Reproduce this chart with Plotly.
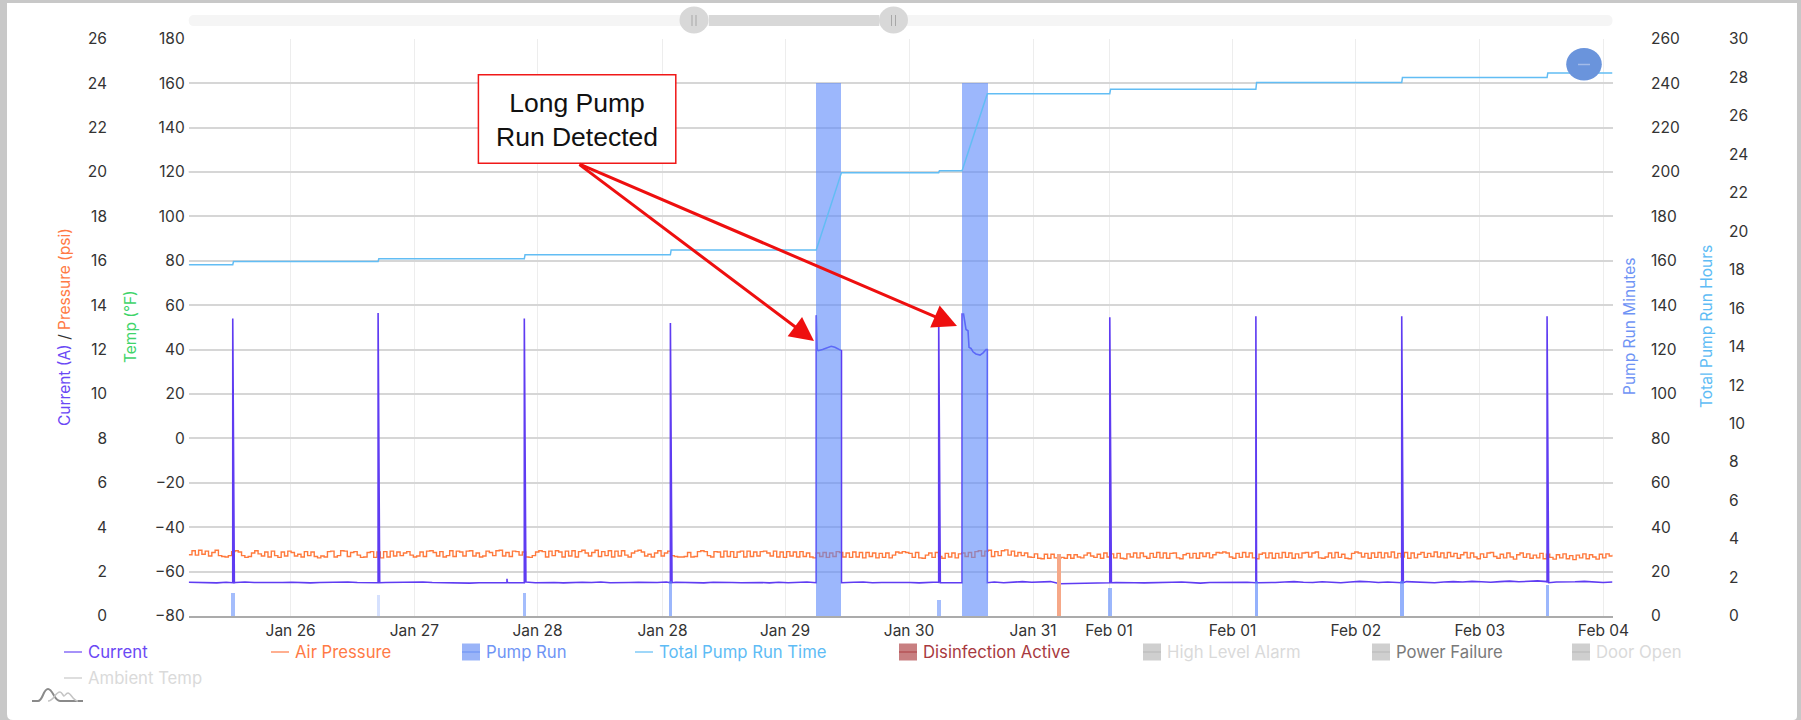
import numpy as np
import plotly.graph_objects as go

# ---------- data (x is in "axis days": 0 = the first "Jan 26" gridline) ----------
tick_days = [0, 1, 1.996, 3.006, 3.997, 4.999, 6.002, 6.616, 7.614, 8.611, 9.613, 10.613]
tick_labels = ["Jan 26", "Jan 27", "Jan 28", "Jan 28", "Jan 29", "Jan 30", "Jan 31",
               "Feb 01", "Feb 01", "Feb 02", "Feb 03", "Feb 04"]
x_range = [-0.824, 10.686]

spike_days = [-0.468, 0.707, 1.749, 1.889, 3.070, 5.239, 6.622, 7.803, 8.982, 10.157]
spike_amps = [13.4, 13.65, 1.68, 13.4, 13.2, 13.4, 13.45, 13.5, 13.5, 13.5]

run1_days = [4.249, 4.249, 4.256, 4.265, 4.30, 4.34, 4.37, 4.40, 4.43, 4.453, 4.453]
run1_amps = [1.5, 13.55, 12.0, 11.95, 12.0, 12.1, 12.15, 12.1, 12.0, 11.95, 1.5]
run2_days = [5.428, 5.428, 5.44, 5.46, 5.476, 5.484, 5.50, 5.516, 5.54, 5.573, 5.598, 5.622, 5.632, 5.632]
run2_amps = [1.5, 13.6, 13.6, 12.9, 12.85, 12.1, 12.05, 11.9, 11.8, 11.75, 11.85, 12.0, 12.0, 1.5]

current_base = [
    1.52, 1.50, 1.51, 1.49, 1.52, 1.51, 1.53, 1.51, 1.50, 1.52, 1.51, 1.52, 1.50, 1.49, 1.51, 1.52,
    1.51, 1.53, 1.51, 1.50, 1.49, 1.51, 1.52, 1.50, 1.52, 1.53, 1.51, 1.50, 1.51, 1.49, 1.48, 1.50,
    1.51, 1.49, 1.52, 1.51, 1.53, 1.50, 1.52, 1.51, 1.49, 1.51, 1.52, 1.51, 1.53, 1.50, 1.49, 1.51,
    1.52, 1.50, 1.51, 1.53, 1.52, 1.50, 1.51, 1.49, 1.52, 1.53, 1.51, 1.50, 1.52, 1.51, 1.49, 1.52,
    1.50, 1.51, 1.53, 1.52, 1.50, 1.49, 1.51, 1.52, 1.53, 1.50, 1.51, 1.52, 1.50, 1.51, 1.49, 1.52,
    1.53, 1.51, 1.50, 1.52, 1.54, 1.51, 1.53, 1.50, 1.52, 1.55, 1.52, 1.53, 1.55, 1.45, 1.46, 1.48,
    1.48, 1.50, 1.49, 1.51, 1.52, 1.50, 1.49, 1.51, 1.50, 1.52, 1.53, 1.50, 1.48, 1.51, 1.52, 1.50,
    1.53, 1.52, 1.50, 1.49, 1.51, 1.53, 1.55, 1.52, 1.51, 1.54, 1.52, 1.50, 1.53, 1.56, 1.54, 1.51,
    1.53, 1.52, 1.55, 1.54, 1.52, 1.50, 1.53, 1.55, 1.53, 1.56, 1.54, 1.52, 1.55, 1.57, 1.54, 1.56,
    1.58, 1.55, 1.53, 1.52, 1.54, 1.56, 1.53, 1.51, 1.53,
]

pressure_psi = [
    # first third of the range
    2.76, 2.94, 2.74, 2.96, 2.78, 2.92, 2.70, 2.86, 2.96, 2.72, 2.68, 2.66, 2.72, 2.90, 2.94, 2.88, 2.72, 2.64, 2.68, 2.84, 2.94, 2.80, 2.70, 2.88,
    2.66, 2.92, 2.72, 2.64, 2.88, 2.70, 2.92, 2.86, 2.70, 2.78, 2.66, 2.90, 2.72, 2.88, 2.68, 2.62, 2.70, 2.66, 2.90, 2.92, 2.66, 2.72, 2.94, 2.92,
    2.68, 2.86, 2.90, 2.74, 2.64, 2.66, 2.86, 2.90, 2.64, 2.88, 2.62, 2.90, 2.66, 2.92, 2.70, 2.88, 2.72, 2.84, 2.90, 2.74, 2.66, 2.70, 2.88, 2.68,
    2.92, 2.94, 2.86, 2.70, 2.90, 2.66, 2.72, 2.94, 2.68, 2.92, 2.88, 2.70, 2.92, 2.94, 2.70, 2.84, 2.66, 2.70, 2.92, 2.86, 2.72, 2.94, 2.96, 2.70,
    2.86, 2.68, 2.92, 2.90, 2.74, 2.88, 2.66, 2.64, 2.72, 2.88, 2.94, 2.90, 2.66, 2.92, 2.72, 2.94, 2.88, 2.66, 2.92, 2.70, 2.94, 2.66, 2.90, 2.96,
    2.84, 2.70, 2.86, 2.96, 2.68, 2.90, 2.72, 2.94, 2.66, 2.92, 2.70, 2.94, 2.74, 2.66, 2.84, 2.92, 2.96, 2.88, 2.70, 2.78, 2.66, 2.84, 2.94, 2.70,
    # middle third
    2.84, 2.92, 2.72, 2.68, 2.66, 2.66, 2.68, 2.86, 2.66, 2.68, 2.90, 2.94, 2.90, 2.72, 2.66, 2.90, 2.88, 2.66, 2.92, 2.68, 2.90, 2.64, 2.88, 2.92,
    2.66, 2.92, 2.68, 2.88, 2.70, 2.90, 2.92, 2.84, 2.70, 2.92, 2.66, 2.88, 2.64, 2.90, 2.70, 2.88, 2.66, 2.90, 2.68, 2.84, 2.66, 2.62, 2.84, 2.68,
    2.86, 2.64, 2.84, 2.68, 2.90, 2.86, 2.66, 2.84, 2.64, 2.88, 2.66, 2.86, 2.62, 2.86, 2.68, 2.84, 2.62, 2.82, 2.64, 2.84, 2.62, 2.74, 2.88, 2.84,
    2.90, 2.86, 2.82, 2.64, 2.86, 2.62, 2.60, 2.74, 2.84, 2.64, 2.86, 2.68, 2.60, 2.82, 2.66, 2.84, 2.62, 2.80, 2.84, 2.68, 2.86, 2.64, 2.90, 2.94,
    2.70, 2.92, 2.96, 2.68, 2.90, 2.72, 2.94, 2.98, 2.74, 2.92, 2.70, 2.86, 2.72, 2.84, 2.66, 2.64, 2.80, 2.60, 2.58, 2.78, 2.60, 2.78, 2.62, 2.60,
    2.64, 2.60, 2.76, 2.60, 2.76, 2.66, 2.62, 2.74, 2.84, 2.70, 2.64, 2.78, 2.60, 2.84, 2.66, 2.80, 2.62, 2.82, 2.60, 2.58, 2.80, 2.66, 2.84, 2.62,
    # last third
    2.84, 2.68, 2.60, 2.82, 2.64, 2.86, 2.62, 2.84, 2.60, 2.82, 2.84, 2.62, 2.58, 2.76, 2.82, 2.62, 2.82, 2.60, 2.84, 2.68, 2.84, 2.62, 2.76, 2.86,
    2.84, 2.88, 2.84, 2.66, 2.60, 2.82, 2.64, 2.86, 2.66, 2.84, 2.62, 2.58, 2.78, 2.84, 2.62, 2.84, 2.60, 2.82, 2.62, 2.86, 2.64, 2.84, 2.60, 2.80,
    2.62, 2.84, 2.86, 2.66, 2.84, 2.88, 2.62, 2.60, 2.66, 2.84, 2.62, 2.86, 2.64, 2.78, 2.60, 2.58, 2.82, 2.88, 2.84, 2.66, 2.82, 2.60, 2.84, 2.64,
    2.86, 2.62, 2.84, 2.66, 2.88, 2.62, 2.82, 2.66, 2.86, 2.60, 2.84, 2.62, 2.78, 2.86, 2.64, 2.82, 2.68, 2.88, 2.66, 2.84, 2.62, 2.86, 2.68, 2.82,
    2.60, 2.76, 2.86, 2.62, 2.84, 2.66, 2.58, 2.80, 2.64, 2.84, 2.86, 2.68, 2.60, 2.78, 2.62, 2.84, 2.66, 2.56, 2.76, 2.84, 2.64, 2.80, 2.60, 2.74,
    2.62, 2.82, 2.58, 2.78, 2.64, 2.56, 2.76, 2.62, 2.80, 2.58, 2.72, 2.54, 2.74, 2.62, 2.80, 2.58, 2.76, 2.66, 2.56, 2.78, 2.62, 2.80, 2.70, 2.76,
]

pump_days = [-0.468, 0.707, 1.889, 3.070, 4.347, 5.239, 5.530, 6.622, 7.803, 8.982, 10.157]
pump_widths = [0.026, 0.026, 0.026, 0.026, 0.204, 0.026, 0.204, 0.026, 0.026, 0.026, 0.022]
pump_minutes = [10.5, 9.5, 10.5, 16, 240, 7.5, 240, 12.7, 16, 16, 14]
pump_alpha = [0.55, 0.25, 0.55, 0.6, 0.6, 0.55, 0.6, 0.6, 0.65, 0.65, 0.6]

disinfection_days = [6.21]
disinfection_minutes = [28.0]

total_days = [-0.824, -0.468, -0.462, 0.707, 0.713, 1.889, 1.895, 3.070, 3.076, 4.249, 4.453,
              5.239, 5.245, 5.428, 5.632, 6.622, 6.628, 7.803, 7.809, 8.982, 8.988, 10.157, 10.163, 10.686]
total_hours = [18.25, 18.25, 18.42, 18.42, 18.56, 18.56, 18.77, 18.77, 19.02, 19.02, 23.04,
               23.04, 23.14, 23.14, 27.14, 27.14, 27.37, 27.37, 27.72, 27.72, 27.98, 27.98, 28.22, 28.22]

legend_names = ["Current", "Air Pressure", "Pump Run", "Total Pump Run Time", "Disinfection Active",
                "High Level Alarm", "Power Failure", "Door Open", "Ambient Temp"]
legend_text = ["#6a48f5", "#ff7a45", "#6f94f5", "#5ebcf5", "#a83a40", "#dadada", "#7a7a7a", "#dadada", "#dadada"]
legend_mark = ["#6a48f5", "#ff7a45", "#6f94f5", "#5ebcf5", "#b0484c", "#bbbbbb", "#bbbbbb", "#bbbbbb", "#c8c8c8"]
legend_kind = ["line", "line", "box", "line", "box", "box", "box", "box", "line"]
legend_x = [64, 271, 462, 635, 899, 1143, 1372, 1572, 64]
legend_y = [652, 652, 652, 652, 652, 652, 652, 652, 678]

# ---------- layout constants ----------
W, H = 1801, 720
L, R, T, B = 188.7, 1612.5, 38.7, 616.0
FONT = "Inter, 'Noto Sans', sans-serif"
TICK = "#333333"


def px(x):
    return x / W


def py(y):
    return 1 - y / H


# ---------- assemble current ----------
base_days = np.linspace(x_range[0], x_range[1], len(current_base))
points = [(d, a) for d, a in zip(base_days, current_base)
          if not (run1_days[0] <= d <= run1_days[-1] or run2_days[0] <= d <= run2_days[-1])]
points += [(d, 1.5) for d in spike_days]
points += [(d + 0.0001, a) for d, a in zip(spike_days, spike_amps)]
points += [(d + 0.013, 1.5) for d in spike_days]
points += [(d + i * 1e-6, a) for i, (d, a) in enumerate(zip(run1_days, run1_amps))]
points += [(d + i * 1e-6, a) for i, (d, a) in enumerate(zip(run2_days, run2_amps))]
points.sort(key=lambda p: p[0])
current_x = [p[0] for p in points]
current_y = [p[1] for p in points]

pressure_x = np.linspace(x_range[0], x_range[1], len(pressure_psi))

fig = go.Figure()
# hidden series (greyed out in the legend) keep the temperature axis alive
fig.add_trace(go.Scatter(x=[0], y=[None], name="Ambient Temp", yaxis="y", showlegend=False))
fig.add_trace(go.Scatter(x=pressure_x, y=pressure_psi, name="Air Pressure", yaxis="y2", mode="lines",
                         line=dict(color="#ff7a3d", width=1.4, shape="hv", simplify=False), showlegend=False))
fig.add_trace(go.Scatter(x=current_x, y=current_y, name="Current", yaxis="y2", mode="lines",
                         line=dict(color="#5f3cf2", width=1.6), showlegend=False))
fig.add_trace(go.Bar(x=pump_days, y=pump_minutes, width=pump_widths, name="Pump Run", yaxis="y3",
                     marker=dict(color=[f"rgba(90,135,250,{a})" for a in pump_alpha], line=dict(width=0)),
                     showlegend=False))
fig.add_trace(go.Bar(x=disinfection_days, y=disinfection_minutes, width=[0.032], name="Disinfection Active",
                     yaxis="y3", marker=dict(color="#f6a888", line=dict(width=0)), showlegend=False))
fig.add_trace(go.Scatter(x=total_days, y=total_hours, name="Total Pump Run Time", yaxis="y4", mode="lines",
                         line=dict(color="#62bdf4", width=1.5), showlegend=False))

domain = [py(B), py(T)]
tickfont = dict(family=FONT, size=15.5, color=TICK)
common = dict(domain=domain, showline=False, zeroline=False, ticks="", tickfont=tickfont, automargin=False)

shapes = []
annotations = []

# card + grey frame
shapes.append(dict(type="path", xref="paper", yref="paper", layer="below", fillcolor="white", line=dict(width=0),
                   path=f"M{px(7)},{py(3)} L{px(1797)},{py(3)} L{px(1797)},{py(716)} Q{px(1797)},{py(720)} {px(1793)},{py(720)} "
                        f"L{px(13)},{py(720)} Q{px(7)},{py(720)} {px(7)},{py(714)} Z"))
# darker 120 gridline
shapes.append(dict(type="line", xref="paper", yref="y", x0=px(L), x1=px(R), y0=120, y1=120, layer="below",
                   line=dict(color="#ababab", width=1)))


def rrect(x0, y0, x1, y1, r):
    return (f"M{px(x0 + r)},{py(y0)} L{px(x1 - r)},{py(y0)} Q{px(x1)},{py(y0)} {px(x1)},{py(y0 + r)} "
            f"L{px(x1)},{py(y1 - r)} Q{px(x1)},{py(y1)} {px(x1 - r)},{py(y1)} L{px(x0 + r)},{py(y1)} "
            f"Q{px(x0)},{py(y1)} {px(x0)},{py(y1 - r)} L{px(x0)},{py(y0 + r)} Q{px(x0)},{py(y0)} {px(x0 + r)},{py(y0)} Z")


def paper_shape(**kw):
    shapes.append(dict(xref="paper", yref="paper", **kw))


# zoom slider
paper_shape(type="path", path=rrect(L, 15, R, 26, 5.5), fillcolor="#f5f5f5", line=dict(width=0), layer="above")
paper_shape(type="rect", x0=px(709), x1=px(879), y0=py(15), y1=py(26), fillcolor="#d8d8d8", line=dict(width=0), layer="above")
for cx in (694, 893.5):
    paper_shape(type="circle", x0=px(cx - 14.5), x1=px(cx + 14.5), y0=py(6.5), y1=py(33.5),
                fillcolor="#d8d8d8", line=dict(width=0), layer="above")
    for dx in (-2, 2):
        paper_shape(type="line", x0=px(cx + dx), x1=px(cx + dx), y0=py(15), y1=py(26),
                    line=dict(color="#a8a8a8", width=1), layer="above")

# blue round button
paper_shape(type="circle", x0=px(1566.2), x1=px(1601.8), y0=py(48), y1=py(80.5),
            fillcolor="#6a94dc", line=dict(width=0), layer="above")
paper_shape(type="line", x0=px(1578), x1=px(1590), y0=py(64.5), y1=py(64.5),
            line=dict(color="#a3bbe8", width=1.5), layer="above")

# logo
paper_shape(type="path", line=dict(color="#8a8a8a", width=2), layer="above",
            path=f"M{px(32)},{py(701)} L{px(38)},{py(701)} C{px(43)},{py(701)} {px(43)},{py(689)} {px(48)},{py(689)} "
                 f"C{px(53)},{py(689)} {px(54)},{py(701)} {px(60)},{py(701)} L{px(83)},{py(701)}")
paper_shape(type="path", line=dict(color="#c4c4c4", width=1.5), layer="above",
            path=f"M{px(48)},{py(701)} C{px(54)},{py(701)} {px(55)},{py(692)} {px(60)},{py(692)} "
                 f"C{px(62)},{py(692)} {px(63)},{py(696)} {px(64)},{py(696)} C{px(65)},{py(696)} {px(66)},{py(693)} {px(68)},{py(693)} "
                 f"C{px(71)},{py(693)} {px(73)},{py(701)} {px(78)},{py(701)}")

# legend
for name, tcol, mcol, kind, lx, ly in zip(legend_names, legend_text, legend_mark, legend_kind, legend_x, legend_y):
    if kind == "box":
        paper_shape(type="rect", x0=px(lx), x1=px(lx + 18), y0=py(ly - 8.5), y1=py(ly + 8.5),
                    fillcolor=mcol, opacity=0.7, line=dict(width=0), layer="above")
    paper_shape(type="line", x0=px(lx), x1=px(lx + 18), y0=py(ly), y1=py(ly), line=dict(color=mcol, width=1.2), layer="above")
    annotations.append(dict(text=name, x=px(lx + 22), y=py(ly), xref="paper", yref="paper", xanchor="left", yanchor="middle",
                            showarrow=False, font=dict(family=FONT, size=16.7, color=tcol)))

# axis titles
for txt, x_pos in [('<span style="color:#6a48f5">Current (A)</span> <span style="color:#333">/</span> '
                    '<span style="color:#ff7a45">Pressure (psi)</span>', 65),
                   ('<span style="color:#3fd46a">Temp (°F)</span>', 131),
                   ('<span style="color:#6f94f5">Pump Run Minutes</span>', 1630),
                   ('<span style="color:#5ebcf5">Total Pump Run Hours</span>', 1707)]:
    annotations.append(dict(text=txt, x=px(x_pos), y=py(327), xref="paper", yref="paper", textangle=-90,
                            xanchor="center", yanchor="middle", showarrow=False,
                            font=dict(family=FONT, size=15.5)))

# callout
paper_shape(type="rect", x0=px(478.4), x1=px(675.8), y0=py(74.7), y1=py(163.3), fillcolor="white",
            line=dict(color="#f01818", width=1.5), layer="above")
annotations.append(dict(text="Long Pump<br>Run Detected", x=px(577), y=py(120), xref="paper", yref="paper",
                        xanchor="center", yanchor="middle", showarrow=False, align="center",
                        font=dict(family="Liberation Sans, Arial, sans-serif", size=26.5, color="#111111")))
for tx, ty in [(814, 341), (957, 326)]:
    annotations.append(dict(text="", x=px(tx), y=py(ty), xref="paper", yref="paper", showarrow=True,
                            ax=578 - tx, ay=163.5 - ty, axref="pixel", ayref="pixel",
                            arrowhead=2, arrowsize=1.6, arrowwidth=3, arrowcolor="#ee0f0f", standoff=0))

fig.update_layout(
    width=W, height=H, autosize=False,
    margin=dict(l=0, r=0, t=0, b=0, pad=0),
    paper_bgcolor="#c8c8c8", plot_bgcolor="rgba(0,0,0,0)",
    barmode="overlay", bargap=0, showlegend=False, font=dict(family=FONT),
    xaxis=dict(domain=[px(L), px(R)], range=x_range, tickmode="array", tickvals=tick_days, ticktext=tick_labels,
               showgrid=True, gridcolor="#ededed", gridwidth=1.2, showline=True, linecolor="#ababab", linewidth=1.5,
               zeroline=False, ticks="", tickfont=tickfont, ticklabelstandoff=0, automargin=False),
    yaxis=dict(range=[-80, 180], dtick=20, tick0=0, showgrid=True, gridcolor="#d6d6d6", gridwidth=1.5,
               ticklabelstandoff=3, **common),
    yaxis2=dict(range=[0, 26], dtick=2, overlaying="y", anchor="free", side="left", position=px(107),
                showgrid=False, **common),
    yaxis3=dict(range=[0, 260], dtick=20, overlaying="y", anchor="free", side="right", position=px(1650),
                showgrid=False, **common),
    yaxis4=dict(range=[0, 30], dtick=2, overlaying="y", anchor="free", side="right", position=px(1728),
                showgrid=False, **common),
    shapes=shapes, annotations=annotations,
)

fig.write_html("out.html", config={"displayModeBar": False},
               post_script="document.body.style.margin='0';document.body.style.overflow='hidden';")
